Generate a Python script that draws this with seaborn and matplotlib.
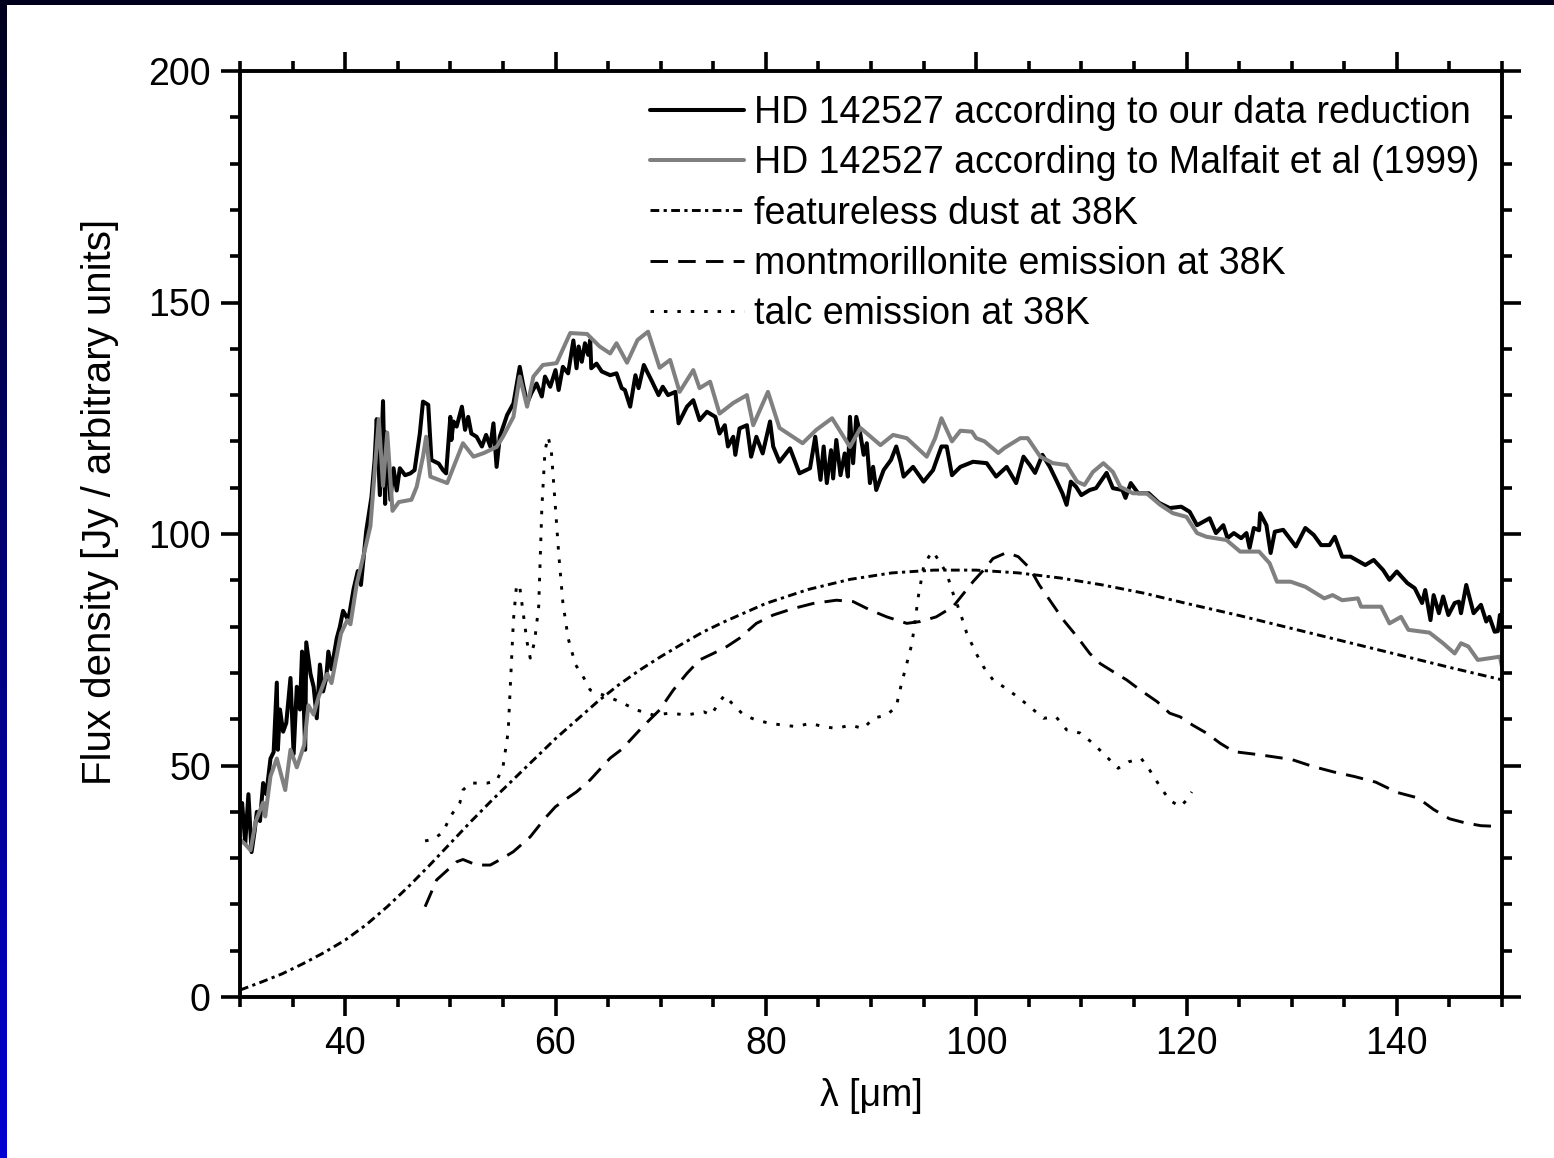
import numpy as np
import pandas as pd
import matplotlib
matplotlib.use("Agg")
import matplotlib.pyplot as plt
import seaborn as sns
from matplotlib.colors import LinearSegmentedColormap
from matplotlib.patches import Rectangle
from matplotlib.ticker import MultipleLocator

# --- our data reduction (black) ---
ours_x = [30.0, 30.2, 30.5, 30.8, 31.1, 31.4, 31.6, 31.9, 32.2, 32.5, 32.9, 33.2, 33.5, 33.6, 33.8,
          34.1, 34.4, 34.8, 35.1, 35.4, 35.7, 35.9, 36.2, 36.3, 36.7, 37.0, 37.3, 37.6, 37.9, 38.2,
          38.4, 38.7, 39.2, 39.5, 39.8, 40.3, 40.8, 41.2, 41.5, 42.0, 42.5, 42.8, 43.0, 43.3, 43.6,
          43.8, 43.9, 44.1, 44.3, 44.6, 44.9, 45.2, 45.7, 46.2, 46.6, 47.1, 47.4, 47.9, 48.2, 48.9,
          49.3, 49.6, 50.0, 50.1, 50.3, 50.6, 51.1, 51.4, 51.7, 52.0, 52.5, 53.0, 53.4, 53.8, 54.1,
          54.4, 54.7, 55.4, 56.0, 56.6, 56.9, 57.3, 57.7, 58.2, 58.7, 59.0, 59.5, 60.0, 60.3, 60.7,
          61.2, 61.7, 62.0, 62.2, 62.5, 62.8, 63.1, 63.3, 63.4, 63.9, 64.4, 65.2, 65.8, 66.3, 66.6,
          67.1, 67.6, 67.9, 68.4, 68.7, 69.1, 69.8, 70.2, 70.7, 71.4, 71.7, 72.5, 73.1, 73.7, 74.4,
          75.2, 75.6, 76.1, 76.4, 76.9, 77.1, 77.5, 78.2, 78.6, 79.1, 79.7, 80.4, 80.7, 81.3, 82.3,
          83.2, 84.2, 84.7, 85.2, 85.5, 85.8, 86.2, 86.4, 86.7, 87.1, 87.5, 87.8, 88.0, 88.3, 88.6,
          89.0, 89.3, 89.6, 89.9, 90.2, 90.5, 91.2, 91.9, 92.4, 92.8, 93.1, 94.0, 95.0, 95.9, 96.7,
          97.2, 97.7, 98.5, 99.7, 101.0, 101.9, 102.9, 103.8, 104.5, 105.1, 105.6, 106.3, 107.0, 107.6, 108.2,
          108.6, 109.0, 109.5, 110.0, 110.8, 111.4, 112.4, 113.0, 113.9, 114.2, 114.7, 115.4, 116.4, 117.4, 118.4,
          119.5, 120.3, 121.0, 122.2, 122.8, 123.5, 123.9, 124.5, 125.2, 125.7, 126.0, 126.4, 126.9, 127.0, 127.6,
          128.0, 128.4, 129.2, 130.4, 131.3, 132.1, 132.8, 133.6, 134.1, 134.8, 135.6, 137.0, 137.8, 138.7, 139.3,
          140.0, 141.0, 141.7, 142.4, 142.7, 143.2, 143.5, 144.0, 144.4, 144.9, 145.5, 145.9, 146.1, 146.6, 147.3,
          148.0, 148.5, 148.8, 149.3, 149.6, 149.8, 150.0]
ours_y = [37.5, 41.9, 33.2, 43.8, 31.3, 36.0, 40.0, 38.0, 46.2, 43.8, 51.5, 52.9, 67.9, 53.4, 62.1,
          57.3, 59.2, 68.9, 52.5, 67.0, 62.1, 74.6, 53.4, 76.6, 69.8, 67.0, 60.2, 71.8, 66.0, 68.9,
          74.6, 70.8, 77.5, 80.0, 83.4, 81.4, 88.1, 92.0, 89.0, 100.6, 108.0, 116.0, 124.8, 108.4, 128.7,
          106.5, 121.9, 115.0, 107.4, 114.2, 109.4, 114.2, 112.7, 113.1, 113.8, 121.7, 128.6, 127.9, 116.0, 115.2,
          113.8, 113.1, 125.3, 120.3, 124.3, 123.2, 127.5, 122.5, 125.3, 121.7, 121.0, 118.9, 121.4, 118.9, 123.9,
          114.5, 121.0, 125.7, 128.2, 136.1, 132.5, 128.2, 130.4, 132.5, 129.7, 134.0, 131.8, 135.4, 131.1, 136.1,
          134.7, 141.8, 135.8, 140.5, 137.2, 141.2, 138.7, 141.9, 135.8, 136.8, 135.1, 134.3, 134.7, 131.5, 131.1,
          127.5, 134.3, 131.5, 136.5, 135.1, 133.3, 130.0, 131.8, 130.0, 130.7, 123.9, 127.5, 128.9, 124.6, 126.4,
          125.3, 121.7, 123.5, 118.9, 121.0, 117.1, 122.8, 123.5, 116.7, 121.0, 117.4, 124.3, 118.9, 115.6, 118.5,
          113.1, 114.2, 121.0, 111.7, 118.9, 111.0, 118.1, 112.0, 120.3, 112.7, 117.4, 112.4, 125.3, 115.3, 125.3,
          121.4, 117.1, 119.6, 111.0, 114.5, 109.5, 113.8, 116.0, 118.9, 115.6, 112.4, 114.5, 111.3, 113.8, 118.9,
          118.9, 112.7, 114.5, 115.6, 115.3, 112.4, 114.5, 111.0, 116.7, 114.9, 113.2, 117.1, 114.5, 111.7, 108.8,
          106.3, 111.3, 110.2, 108.4, 109.5, 109.9, 113.2, 109.9, 109.5, 107.8, 111.0, 108.8, 108.8, 106.7, 105.6,
          105.9, 104.8, 101.9, 103.4, 100.2, 101.9, 99.1, 100.2, 99.1, 100.2, 97.0, 101.3, 100.8, 104.5, 101.9,
          95.9, 100.5, 100.9, 97.3, 101.3, 99.8, 97.6, 97.6, 99.4, 95.1, 95.1, 93.3, 94.4, 92.2, 90.1,
          91.9, 89.4, 88.3, 85.1, 87.9, 81.4, 86.8, 82.9, 86.5, 82.5, 85.1, 85.4, 82.9, 89.0, 82.9,
          84.7, 81.1, 82.1, 78.9, 79.0, 82.5, 82.0]

# --- Malfait et al (1999) (grey) ---
malfait_x = [30.0, 30.5, 31.0, 31.5, 32.2, 32.4, 32.9, 33.5, 34.3, 34.8, 35.4, 36.1, 36.5, 37.0, 37.5,
             38.3, 38.7, 39.6, 40.2, 40.5, 41.1, 42.0, 42.4, 43.2, 43.6, 44.0, 44.5, 45.1, 46.3, 46.8,
             47.4, 47.7, 48.1, 49.7, 51.2, 52.2, 53.2, 54.4, 55.0, 56.0, 56.6, 57.3, 57.9, 58.8, 60.1,
             61.4, 63.0, 64.2, 65.2, 65.8, 66.8, 67.8, 68.8, 69.9, 70.9, 71.8, 73.1, 73.7, 74.7, 75.6,
             76.9, 78.2, 78.8, 80.2, 81.3, 83.5, 84.8, 86.3, 88.0, 89.0, 90.9, 92.1, 93.4, 95.3, 96.1,
             96.7, 97.7, 98.5, 99.6, 100.0, 100.8, 102.1, 102.7, 104.2, 104.9, 106.1, 107.3, 108.6, 109.6, 110.3,
             111.1, 112.1, 113.0, 113.7, 114.9, 116.2, 117.5, 118.7, 120.0, 121.0, 121.9, 123.8, 125.1, 126.9, 127.9,
             128.6, 129.9, 131.3, 133.1, 133.9, 134.8, 136.3, 136.6, 138.5, 139.3, 140.4, 141.1, 143.1, 144.4, 145.5,
             146.1, 146.8, 147.7, 149.8, 150.0]
malfait_y = [34.0, 33.0, 31.7, 38.0, 42.0, 39.0, 47.7, 51.5, 44.7, 53.4, 49.6, 54.4, 63.0, 61.0, 65.0,
             69.8, 67.8, 78.5, 81.4, 80.5, 89.2, 97.8, 101.7, 124.8, 110.4, 121.9, 105.0, 106.9, 107.4, 110.2,
             116.7, 121.0, 112.4, 111.0, 119.6, 116.7, 117.5, 118.8, 121.0, 125.3, 134.0, 127.5, 134.0, 136.5, 136.9,
             143.4, 143.2, 140.5, 139.0, 141.2, 137.0, 141.9, 143.7, 135.9, 137.6, 130.7, 135.4, 131.5, 132.9, 126.0,
             128.3, 130.0, 123.5, 130.7, 122.9, 119.6, 122.5, 125.0, 118.8, 122.9, 119.2, 121.4, 120.7, 116.7, 120.7,
             125.0, 120.0, 122.3, 122.1, 120.7, 120.0, 117.5, 118.6, 120.7, 120.7, 116.7, 115.3, 114.9, 111.3, 110.6,
             113.4, 115.3, 113.4, 110.2, 108.8, 108.8, 106.3, 104.5, 103.7, 100.2, 99.4, 98.7, 96.2, 96.2, 93.7,
             89.7, 89.7, 88.6, 86.1, 86.8, 85.7, 86.1, 84.3, 84.3, 80.7, 82.1, 79.3, 78.7, 76.4, 74.2,
             76.4, 75.7, 72.8, 73.5, 71.3]

# --- featureless dust at 38K ---
dust_x = [30, 32, 34, 36, 38, 40, 42, 44, 46, 48, 50, 52, 54, 56, 58, 60, 62, 64, 66, 68, 70,
          72, 74, 76, 78, 80, 84, 88, 92, 96, 100, 104, 108, 112, 116, 120, 125, 130, 135, 140, 145, 150]
dust_y = [1.5, 3.2, 5.0, 7.2, 9.6, 12.3, 15.6, 19.5, 23.8, 28.4, 33.2, 38.0, 42.6, 47.0, 51.4, 55.8,
          59.8, 63.8, 67.4, 70.6, 73.5, 76.2, 78.8, 81.0, 83.0, 85.0, 88.0, 90.2, 91.6, 92.2, 92.2,
          91.6, 90.5, 89.0, 87.2, 85.0, 82.4, 79.6, 76.8, 74.0, 71.2, 68.5]

# --- montmorillonite emission at 38K ---
mont_x = [47.6, 48.7, 50.6, 51.2, 52.5, 53.8, 55.0, 56.0, 57.6, 59.0, 60.0, 61.1, 62.0, 63.3, 65.2,
          66.3, 68.3, 69.9, 71.2, 72.5, 73.7, 75.0, 76.3, 77.5, 79.1, 80.7, 82.6, 84.5, 86.7, 88.3,
          89.9, 91.5, 93.4, 94.7, 96.2, 97.8, 99.7, 100.7, 101.6, 102.9, 104.0, 105.1, 106.0, 107.0, 108.3,
          109.6, 110.8, 111.8, 113.0, 114.3, 115.6, 117.2, 118.4, 119.4, 120.6, 121.9, 123.2, 124.5, 127.0, 130.0,
          132.0, 134.0, 136.0, 138.0, 140.0, 142.0, 143.5, 145.0, 146.5, 148.0, 150.0]
mont_y = [19.5, 25.3, 29.2, 29.7, 28.5, 28.5, 30.0, 31.4, 34.6, 38.6, 41.1, 42.9, 44.3, 46.9, 51.6,
          53.5, 58.4, 62.0, 66.3, 69.9, 72.8, 74.2, 75.7, 77.5, 80.7, 82.5, 83.9, 85.0, 85.7, 85.4,
          83.6, 82.1, 80.7, 81.1, 82.1, 84.3, 89.7, 92.2, 94.7, 96.0, 95.1, 92.6, 89.0, 85.7, 81.4,
          77.8, 74.2, 72.0, 70.3, 68.5, 66.3, 63.8, 61.3, 60.5, 58.7, 57.0, 54.8, 53.0, 52.3, 51.3,
          49.8, 48.6, 47.6, 46.4, 44.2, 43.0, 40.5, 38.5, 37.6, 37.0, 36.8]

# --- talc emission at 38K ---
talc_x = [47.6, 48.4, 49.3, 50.0, 50.9, 51.2, 51.9, 53.5, 54.4, 55.0, 55.5, 55.7, 56.0, 56.3, 56.6,
          56.9, 57.3, 57.6, 58.0, 58.4, 58.7, 59.0, 59.3, 59.6, 60.0, 60.3, 60.7, 61.2, 61.9, 62.7,
          63.3, 64.9, 66.1, 67.7, 69.3, 70.9, 72.5, 74.1, 74.8, 75.6, 76.1, 76.9, 77.9, 79.1, 80.4,
          81.7, 82.9, 84.2, 85.5, 86.7, 88.0, 89.3, 90.2, 91.5, 92.4, 92.9, 93.4, 93.9, 94.5, 95.0,
          95.5, 95.9, 96.6, 97.2, 97.8, 98.5, 99.1, 100.0, 100.7, 101.6, 102.6, 103.9, 105.1, 106.4, 107.6,
          108.6, 109.9, 111.1, 112.4, 113.5, 114.5, 115.7, 116.5, 117.5, 118.4, 119.4, 120.0, 120.5]
talc_y = [33.7, 34.1, 35.6, 39.0, 41.9, 44.7, 46.2, 46.2, 46.7, 49.6, 57.3, 67.0, 81.4, 89.1, 88.6,
          83.4, 76.6, 73.2, 76.6, 84.3, 105.5, 118.0, 121.0, 118.0, 105.5, 95.9, 85.2, 77.5, 71.8, 68.9,
          66.3, 64.9, 63.8, 62.0, 60.9, 61.3, 60.9, 61.6, 60.9, 63.8, 65.2, 63.1, 60.9, 59.8, 59.1,
          58.7, 58.4, 59.1, 58.4, 58.0, 58.7, 58.0, 60.2, 60.9, 62.7, 67.7, 72.0, 76.4, 86.5, 92.9,
          95.1, 96.2, 93.7, 91.5, 87.2, 82.9, 78.6, 74.2, 71.3, 68.5, 67.0, 64.9, 62.7, 60.2, 60.5,
          57.7, 57.0, 54.8, 51.9, 49.4, 50.8, 51.5, 49.0, 45.4, 42.5, 41.1, 42.5, 44.3]

labels = ["HD 142527 according to our data reduction",
          "HD 142527 according to Malfait et al (1999)",
          "featureless dust at 38K",
          "montmorillonite emission at 38K",
          "talc emission at 38K"]

sns.set_theme(style="ticks")
plt.rcParams["font.family"] = ["Liberation Sans", "DejaVu Sans"]
FS = 27

fig = plt.figure(figsize=(15.54, 11.58), dpi=100)
fig.patch.set_facecolor("white")
ax = fig.add_axes([240 / 1554, 1 - 997 / 1158, 1262 / 1554, 926 / 1158])

series = [
    (ours_x, ours_y, labels[0], "black", 2.9, "-"),
    (malfait_x, malfait_y, labels[1], "#808080", 2.9, "-"),
    (dust_x, dust_y, labels[2], "black", 2.1, (0, (3.0, 1.5, 1.1, 1.5))),
    (mont_x, mont_y, labels[3], "black", 2.1, (0, (6.0, 3.5))),
    (talc_x, talc_y, labels[4], "black", 2.1, (0, (1.2, 3.4))),
]
for xs, ys, lab, col, lw, ls in series:
    df = pd.DataFrame({"wl": xs, "flux": ys})
    sns.lineplot(data=df, x="wl", y="flux", ax=ax, color=col, linewidth=lw,
                 linestyle=ls, label=lab, estimator=None, sort=False)

ax.set_xlim(30, 150)
ax.set_ylim(0, 200)
ax.xaxis.set_major_locator(MultipleLocator(20))
ax.xaxis.set_minor_locator(MultipleLocator(5))
ax.yaxis.set_major_locator(MultipleLocator(50))
ax.yaxis.set_minor_locator(MultipleLocator(10))
ax.tick_params(which="both", direction="out", top=True, right=True, width=2.6,
               color="black", labelsize=FS, labelcolor="black")
ax.tick_params(which="major", length=14, pad=7)
ax.tick_params(which="minor", length=7)
for sp in ax.spines.values():
    sp.set_visible(True)
    sp.set_linewidth(2.8)
    sp.set_color("black")

ax.set_xlabel("λ [μm]", fontsize=FS, color="black")
ax.xaxis.set_label_coords(0.5, -0.088)
ax.set_ylabel("Flux density [Jy / arbitrary units]", fontsize=29, color="black")
ax.yaxis.set_label_coords(-0.096, 0.535)

leg = ax.legend(loc="upper left", bbox_to_anchor=(650 / 1554, 1 - 95 / 1158),
                bbox_transform=fig.transFigure, frameon=False, fontsize=FS,
                handlelength=2.5, handletextpad=0.27, labelspacing=0.38,
                borderpad=0, borderaxespad=0)
for t in leg.get_texts():
    t.set_color("black")

# dark frame of the slide: top band and left gradient band
fig.patches.append(Rectangle((0, 1 - 5 / 1158), 1, 5 / 1158, transform=fig.transFigure,
                             facecolor="#00001c", edgecolor="none", zorder=5))
bax = fig.add_axes([0, 0, 7 / 1554, 1])
cmap = LinearSegmentedColormap.from_list("band", ["#00001c", "#0000d2"])
bax.imshow(np.linspace(0, 1, 256).reshape(-1, 1), aspect="auto", cmap=cmap)
bax.set_axis_off()

fig.savefig("out.png", dpi=100, facecolor="white")
